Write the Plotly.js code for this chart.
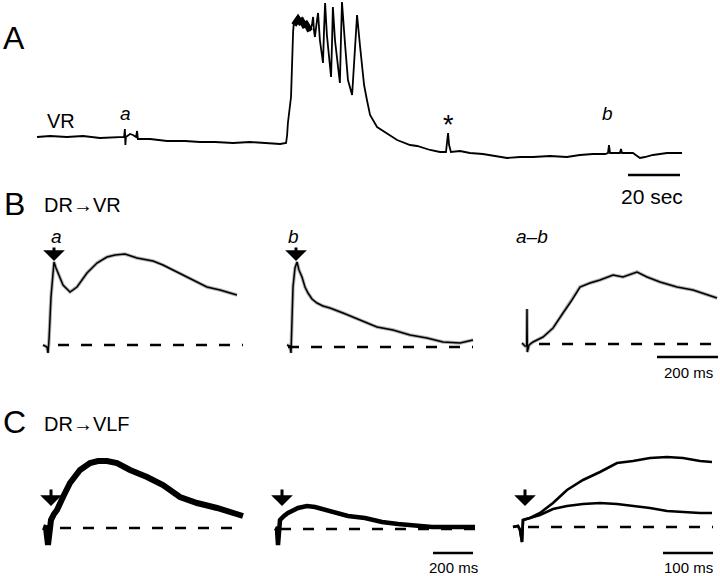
<!DOCTYPE html>
<html>
<head>
<meta charset="utf-8">
<script src="https://cdn.plot.ly/plotly-3.0.1.min.js"></script>
<style>
  html, body { margin: 0; padding: 0; background: #fff; }
  #chart { width: 720px; height: 576px; }
</style>
</head>
<body>
<div id="chart"></div>
<script>
// A: ventral root DC recording (time in s, amplitude in mV)
const aTime = [0, 5.0, 11.5, 17.7, 24.2, 31.9, 33.5, 33.8, 34.0, 34.2,
  35.8, 36.9, 38.1, 38.5, 38.8, 43.5, 50.0, 56.9, 62.7, 68.5,
  75.4, 81.9, 88.5, 93.5, 95.8, 96.2, 96.5, 97.7, 98.5, 98.8,
  99.6, 100.4, 101.2, 101.9, 102.7, 103.5, 104.2, 105.0, 105.8, 106.2,
  106.5, 106.9, 107.7, 108.1, 108.8, 110.0, 110.4, 110.8, 111.5, 113.1,
  113.5, 113.8, 114.6, 116.5, 116.9, 117.3, 118.5, 119.6, 121.2, 122.3,
  123.1, 124.2, 125.8, 126.9, 128.1, 130.8, 134.6, 138.5, 143.5, 146.2,
  151.2, 155.0, 157.3, 157.7, 158.1, 158.5, 159.2, 162.7, 166.5, 171.5,
  176.2, 180.8, 185.8, 190.8, 197.3, 203.8, 208.8, 213.8, 218.5, 219.6,
  220.0, 220.4, 221.5, 224.2, 224.6, 225.0, 229.2, 231.9, 233.8, 236.9,
  242.3, 245.4, 248.1];
const aAmp = [0.19, 0.20, 0.19, 0.20, 0.18, 0.19, 0.19, 0.27, 0.11, 0.19,
  0.22, 0.21, 0.19, 0.25, 0.17, 0.17, 0.15, 0.15, 0.14, 0.14,
  0.13, 0.14, 0.13, 0.12, 0.13, 0.21, 0.33, 0.59, 1.24, 1.34,
  1.37, 1.40, 1.36, 1.38, 1.32, 1.34, 1.30, 1.25, 1.32, 1.39,
  1.26, 1.19, 1.36, 1.43, 1.16, 0.93, 1.26, 1.53, 1.21, 0.79,
  1.16, 1.49, 1.16, 0.73, 1.16, 1.54, 1.11, 0.76, 0.61, 1.06,
  1.41, 1.11, 0.71, 0.56, 0.41, 0.29, 0.23, 0.16, 0.11, 0.10,
  0.06, 0.04, 0.04, 0.11, 0.23, 0.11, 0.04, 0.05, 0.03, 0.02,
  0.00, -0.02, -0.01, -0.01, 0.00, -0.01, 0.01, 0.02, 0.02, 0.03,
  0.11, 0.03, 0.03, 0.03, 0.07, 0.03, 0.03, -0.02, -0.01, 0.01,
  0.03, 0.03, 0.03];
// noisy plateau at the start of the burst (centre of the thick band)
const aPlateauTime = [98.8, 99.6, 100.4, 101.2, 101.9, 102.7, 103.5, 104.2, 105.0];
const aPlateauAmp = [1.31, 1.35, 1.37, 1.34, 1.35, 1.31, 1.32, 1.29, 1.25];

// B: DR -> VR responses (time in ms, amplitude in mV)
const b1Time = [-16.4, -3.3, 0, 3.3, 9.8, 16.4, 19.7, 26.2, 32.8, 49.2, 72.2, 95.1, 127.9,
  160.7, 193.5, 219.8, 252.6, 291.9, 344.4, 377.2, 423.1, 475.6, 521.5, 564.2, 619.9];
const b1Amp = [0, -0.02, -0.08, 0.05, 0.48, 0.77, 0.83, 0.77, 0.72, 0.60, 0.53, 0.58, 0.72,
  0.82, 0.88, 0.90, 0.91, 0.87, 0.84, 0.80, 0.73, 0.65, 0.58, 0.55, 0.50];
const b2Time = [-13.1, -3.3, 0, 3.3, 6.6, 13.1, 19.7, 26.2, 36.1, 45.9, 55.8, 68.9,
  85.3, 105.0, 127.9, 170.6, 226.3, 282.1, 334.6, 390.3, 446.1, 498.6, 554.4, 597.0];
const b2Amp = [0.02, 0.01, -0.06, 0.27, 0.60, 0.79, 0.85, 0.77, 0.70, 0.60, 0.54, 0.48,
  0.44, 0.41, 0.39, 0.34, 0.27, 0.20, 0.17, 0.12, 0.09, 0.05, 0.04, 0.07];
const b3Time = [-16.4, -6.6, -1, 0, 1, 6.6, 19.7, 52.5, 85.3, 118.1, 147.6, 173.8,
  206.6, 239.4, 282.1, 314.9, 360.8, 393.6, 436.2, 492.0, 544.5, 593.7, 623.2];
const b3Amp = [0.01, -0.02, -0.02, 0.35, -0.08, -0.01, 0.02, 0.07, 0.16, 0.31, 0.44, 0.57,
  0.61, 0.64, 0.69, 0.67, 0.72, 0.67, 0.62, 0.57, 0.54, 0.49, 0.46];

// C: DR -> VLF responses
const c1Time = [-25, -10, 0, 5, 15, 30, 45, 75, 110, 160, 210, 250, 295, 345, 410, 495,
  575, 660, 745, 845, 910, 975];
const c1Amp = [0.01, 0, -0.17, -0.02, 0.08, 0.14, 0.18, 0.31, 0.45, 0.58, 0.65, 0.67, 0.67,
  0.65, 0.58, 0.51, 0.43, 0.31, 0.25, 0.20, 0.16, 0.12];
const c2Time = [-15, -5, 0, 5, 10, 30, 50, 100, 145, 185, 270, 350, 435, 520, 600, 685,
  770, 850, 985];
const c2Amp = [0.01, 0, -0.16, 0.04, 0.09, 0.13, 0.16, 0.21, 0.23, 0.22, 0.17, 0.13, 0.11,
  0.07, 0.05, 0.03, 0.02, 0.02, 0.02];
const c3Time = [-18, -8, -4, 0, 2, 16, 36, 62, 90, 122, 156, 190, 222, 256, 290, 322, 356, 380];
const c3Upper = [0, 0.01, -0.03, -0.15, 0.07, 0.09, 0.14, 0.24, 0.37, 0.47, 0.55, 0.64,
  0.66, 0.69, 0.70, 0.69, 0.66, 0.65];
const c3Lower = [0, 0.01, -0.03, -0.15, 0.07, 0.09, 0.12, 0.18, 0.21, 0.23, 0.24, 0.23,
  0.21, 0.19, 0.16, 0.15, 0.14, 0.14];

// dashed baselines (start/end time) and scale bars
const baseB1 = [32.8, 639.6], baseB2 = [-9.8, 597], baseB3 = [39.4, 626.5];
const baseC1 = [60, 975], baseC2 = [10, 985], baseC3 = [12, 382];
const scaleA = [227.3, 247.3];   // 20 sec
const scaleB = [426.4, 626.4];   // 200 ms
const scaleC2 = [775, 975];      // 200 ms
const scaleC3 = [282, 382];      // 100 ms

const FONT = 'Liberation Sans, Arial, sans-serif';
const W = 720, H = 576;
const px = x => x / W;
const py = y => 1 - y / H;

function trace(x, y, ax, width) {
    return { x: x, y: y, xaxis: 'x' + ax, yaxis: 'y' + ax, type: 'scatter', mode: 'lines',
        line: { color: '#000', width: width }, hoverinfo: 'skip' };
}
function band(x, y, ax, width) {
    const t = trace(x, y, ax, width);
    t.line.color = 'rgba(0,0,0,0.3)';
    return t;
}
function dashed(x, ax) {
    const t = trace(x, [0, 0], ax, 2.5);
    t.line.dash = '11px,12px';
    return t;
}
function bar(x, level, ax) {
    return trace(x, [level, level], ax, 2.5);
}

const data = [
    trace(aTime, aAmp, '', 1.8), trace(aPlateauTime, aPlateauAmp, '', 6),
    band(b1Time, b1Amp, '2', 3.5), trace(b1Time, b1Amp, '2', 1.5), dashed(baseB1, '2'),
    band(b2Time, b2Amp, '3', 3.5), trace(b2Time, b2Amp, '3', 1.5), dashed(baseB2, '3'),
    band(b3Time, b3Amp, '4', 3.5), trace(b3Time, b3Amp, '4', 1.5), dashed(baseB3, '4'),
    dashed(baseC1, '5'), trace(c1Time, c1Amp, '5', 6),
    dashed(baseC2, '6'), trace(c2Time, c2Amp, '6', 4.5),
    dashed(baseC3, '7'), trace(c3Time, c3Upper, '7', 2.6), trace(c3Time, c3Lower, '7', 2.6),
    bar(scaleA, -0.19, ''), bar(scaleB, -0.13, '4'),
    bar(scaleC2, -0.24, '6'), bar(scaleC3, -0.26, '7')
];
data.forEach(t => { if (t.xaxis === 'x') { t.yaxis = 'y'; } });

function axis(lo, hi, range) {
    return { domain: [lo, hi], range: range, visible: false, fixedrange: true };
}

function label(text, x, y, size, anchor) {
    return { text: text, xref: 'paper', yref: 'paper', x: px(x), y: py(y),
        xanchor: anchor || 'center', yanchor: 'middle', showarrow: false,
        font: { family: FONT, size: size, color: '#000' } };
}
// stimulus arrows: short shaft with a wide filled head pointing down
function arrow(x, y, len) {
    return { text: '', xref: 'paper', yref: 'paper', x: px(x), y: py(y), ax: 0, ay: -len,
        showarrow: true, arrowhead: 1, arrowsize: 1.2, arrowwidth: 3,
        arrowcolor: '#000', standoff: 0 };
}

const layout = {
    width: W, height: H,
    margin: { l: 0, r: 0, t: 0, b: 0 },
    paper_bgcolor: '#fff', plot_bgcolor: '#fff',
    showlegend: false,
    xaxis: axis(px(37), px(687), [0, 250]),
    yaxis: axis(py(185), py(0), [-0.29, 1.56]),
    xaxis2: axis(px(38), px(250), [-32.8, 662.6]),
    yaxis2: axis(py(365), py(240), [-0.20, 1.05]),
    xaxis3: axis(px(278), px(490), [-42.6, 652.7]),
    yaxis3: axis(py(365), py(240), [-0.18, 1.07]),
    xaxis4: axis(px(510), px(720), [-55.8, 633.0]),
    yaxis4: axis(py(365), py(240), [-0.21, 1.04]),
    xaxis5: axis(px(38), px(250), [-50, 1010]),
    yaxis5: axis(py(560), py(440), [-0.32, 0.88]),
    xaxis6: axis(px(265), px(480), [-65, 1010]),
    yaxis6: axis(py(560), py(440), [-0.31, 0.89]),
    xaxis7: axis(px(505), px(720), [-34, 396]),
    yaxis7: axis(py(560), py(440), [-0.33, 0.87]),
    annotations: [
        label('A', 14, 38, 32),
        label('VR', 61, 121, 20),
        label('<i>a</i>', 125, 113, 19),
        label('*', 448, 125, 27),
        label('<i>b</i>', 607, 114, 19),
        label('20 sec', 652, 196, 21),
        label('B', 14, 204, 32),
        label('DR→VR', 42, 205, 20, 'left'),
        label('<i>a</i>', 56, 237, 19),
        label('<i>b</i>', 293, 237, 19),
        label('<i>a–b</i>', 514, 237, 19, 'left'),
        label('200 ms', 688, 372, 15),
        label('C', 14, 422, 32),
        label('DR→VLF', 42, 424, 20, 'left'),
        label('200 ms', 453, 567, 15),
        label('100 ms', 688, 567, 15),
        arrow(54, 261, 15), arrow(296, 261, 15),
        arrow(51, 506, 18), arrow(282, 506, 18), arrow(525, 506, 18)
    ]
};

Plotly.newPlot('chart', data, layout, { staticPlot: true, displayModeBar: false });
</script>
</body>
</html>
